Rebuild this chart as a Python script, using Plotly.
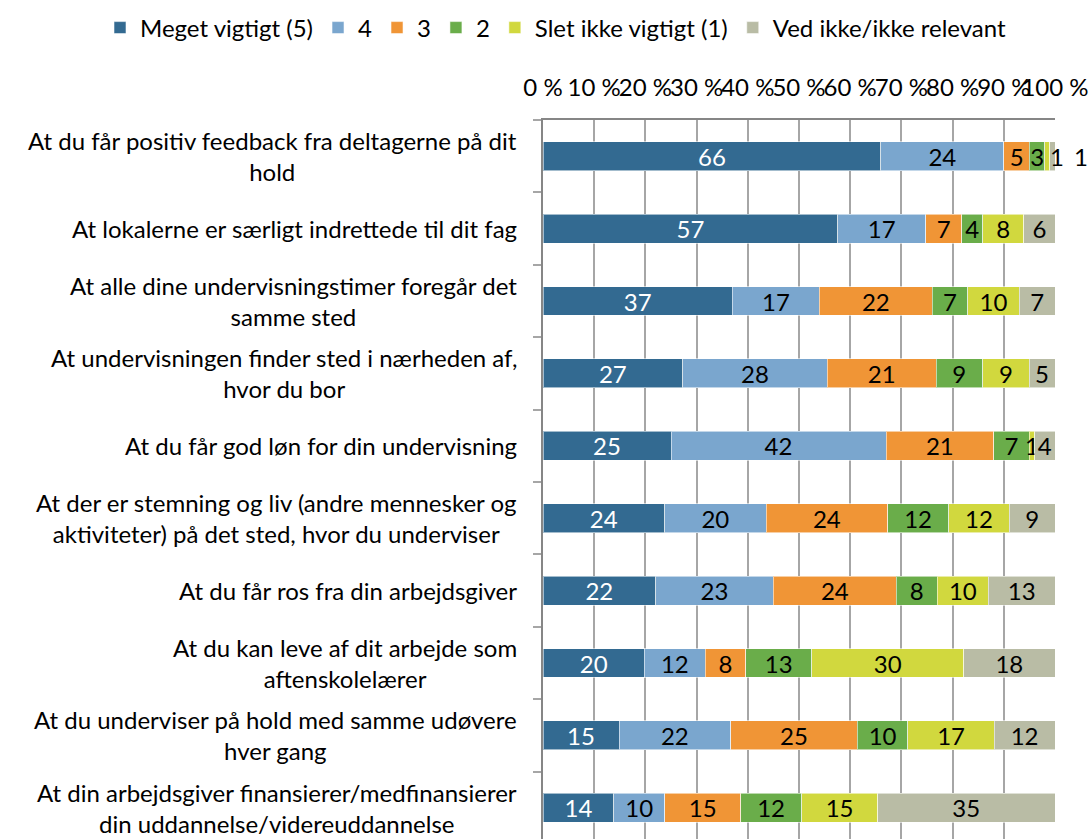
import plotly.graph_objects as go

# Survey statements (top to bottom) and share of answers per rating, in percent
statements = [
    "At du får positiv feedback fra deltagerne på dit<br>hold",
    "At lokalerne er særligt indrettede til dit fag",
    "At alle dine undervisningstimer foregår det<br>samme sted",
    "At undervisningen finder sted i nærheden af,<br>hvor du bor",
    "At du får god løn for din undervisning",
    "At der er stemning og liv (andre mennesker og<br>aktiviteter) på det sted, hvor du underviser",
    "At du får ros fra din arbejdsgiver",
    "At du kan leve af dit arbejde som<br>aftenskolelærer",
    "At du underviser på hold med samme udøvere<br>hver gang",
    "At din arbejdsgiver finansierer/medfinansierer<br>din uddannelse/videreuddannelse",
]

series_names = ["Meget vigtigt (5)", "4", "3", "2", "Slet ikke vigtigt (1)", "Ved ikke/ikke relevant"]

meget_vigtigt = [66, 57, 37, 27, 25, 24, 22, 20, 15, 14]
rating_4 = [24, 17, 17, 28, 42, 20, 23, 12, 22, 10]
rating_3 = [5, 7, 22, 21, 21, 24, 24, 8, 25, 15]
rating_2 = [3, 4, 7, 9, 7, 12, 8, 13, 10, 12]
slet_ikke = [1, 8, 10, 9, 1, 12, 10, 30, 17, 15]
ved_ikke = [1, 6, 7, 5, 4, 9, 13, 18, 12, 35]

series_values = [meget_vigtigt, rating_4, rating_3, rating_2, slet_ikke, ved_ikke]
colors = ["#336A91", "#7AA6CE", "#F09536", "#6AAD4A", "#D1D83E", "#B9BCA5"]
label_colors = ["white", "black", "black", "black", "black", "black"]

tick_values = list(range(0, 101, 10))
tick_labels = [f"{v} %" for v in tick_values]

FONT = "Lato"
FS = 24

fig = go.Figure()

# Tiny end segments of the first row get their labels placed beside the bar
outside_first_row = {4: 2, 5: 26}

for i, (name, vals) in enumerate(zip(series_names, series_values)):
    texts = [str(v) for v in vals]
    if i in outside_first_row:
        texts[0] = ""
    fig.add_trace(go.Bar(
        name=name,
        y=statements,
        x=vals,
        orientation="h",
        marker=dict(color=colors[i], line=dict(color="rgba(255,255,255,0.55)", width=1)),
        text=texts,
        textposition="inside",
        insidetextanchor="middle",
        textangle=0,
        textfont=dict(family=FONT, size=FS, color=label_colors[i]),
        hoverinfo="skip",
    ))

annotations = []
for i, shift in outside_first_row.items():
    annotations.append(dict(
        x=100, y=statements[0], xref="x", yref="y",
        text=str(series_values[i][0]), showarrow=False, xanchor="center",
        xshift=shift, font=dict(family=FONT, size=FS, color="black"),
    ))

# Category labels: centred lines, right-aligned block next to the axis
for s in statements:
    annotations.append(dict(
        x=0, y=s, xref="paper", yref="y", text=s, showarrow=False,
        xanchor="right", yanchor="middle", align="center", xshift=-24,
        font=dict(family=FONT, size=FS, color="black"),
    ))

band = 72.4
plot_w = 1055 - 543
plot_h = 839 - 120
fig.update_layout(
    width=1091, height=839,
    margin=dict(l=543, r=36, t=120, b=0, pad=0, autoexpand=False),
    barmode="stack", barnorm="percent", bargap=0.6,
    plot_bgcolor="white", paper_bgcolor="white",
    font=dict(family=FONT, size=FS, color="black"),
    uniformtext=dict(minsize=FS, mode="show"),
    showlegend=True,
    legend=dict(
        orientation="h", xref="paper", yref="paper",
        x=(100 - 543) / plot_w, xanchor="left",
        y=1 + (120 - 28) / plot_h, yanchor="middle",
        bgcolor="rgba(0,0,0,0)",
        font=dict(family=FONT, size=FS, color="black"),
        traceorder="normal", itemwidth=30, tracegroupgap=0,
    ),
    annotations=annotations,
    xaxis=dict(
        side="top", range=[0, 100], tickvals=tick_values, ticktext=tick_labels,
        tickangle=0, showgrid=True, gridcolor="#A6A6A6", gridwidth=2,
        zeroline=False, showline=True, linecolor="#868686", linewidth=2,
        ticks="", ticklabelstandoff=12,
        tickfont=dict(family=FONT, size=FS, color="black"),
    ),
    yaxis=dict(
        categoryorder="array", categoryarray=statements,
        range=[-0.5 + plot_h / band, -0.5], showticklabels=False,
        ticks="outside", tickson="boundaries", ticklen=8, tickwidth=2,
        tickcolor="#A6A6A6", showline=True, linecolor="#868686", linewidth=2,
        showgrid=False, zeroline=False,
    ),
)

fig.write_html("out.html")
